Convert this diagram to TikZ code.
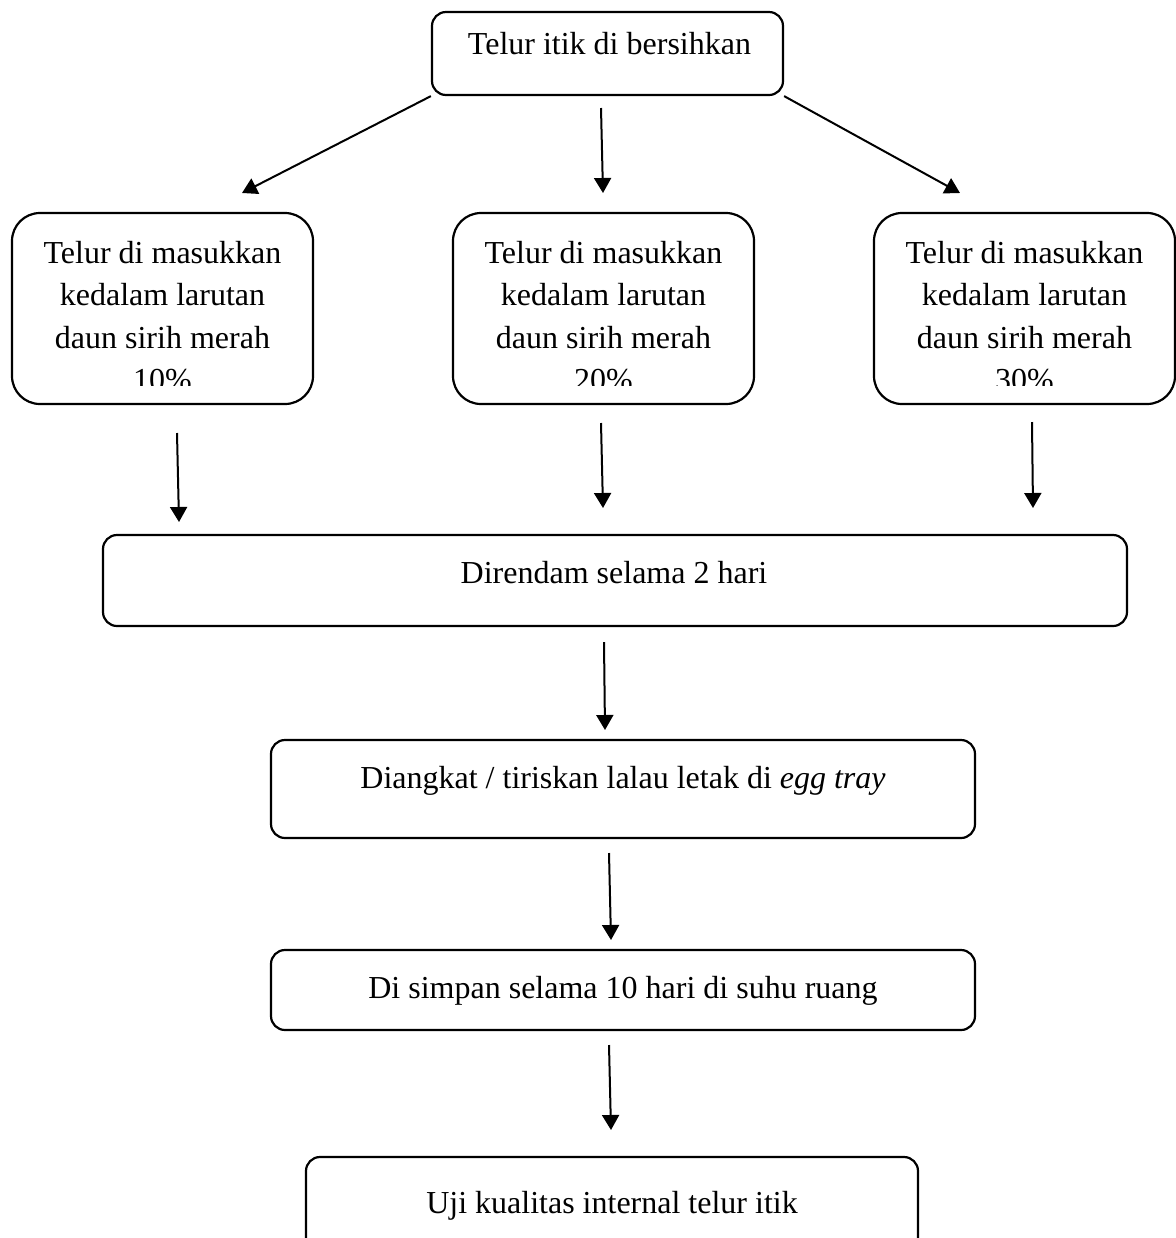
\documentclass[tikz,border=0pt]{standalone}
\usepackage{fontspec}
\setmainfont{Liberation Serif}
\usetikzlibrary{arrows.meta}

\begin{document}
\begin{tikzpicture}[x=0.5pt,y=-0.5pt,
    box/.style={draw,line width=1.1pt,rounded corners=7pt,inner sep=0pt},
    boxsize/.style 2 args={minimum width=#1*0.5pt,minimum height=#2*0.5pt},
    sidebox/.style={box,rounded corners=14pt,boxsize={301}{191}},
    txt/.style={inner sep=0pt,anchor=base,font=\fontsize{16}{21.25}\selectfont},
    sidetxt/.style={txt,align=center},
    arr/.style={line width=1pt,-{Triangle[width=8.5pt,length=7.5pt]}}]
            \clip (0,0) rectangle (1176,1238);
            \node[box,boxsize={351}{83}] (top) at (607.5,53.5) {};
            \node[txt] (ttop) at (609.5,54) {Telur itik di bersihkan};
            \node[sidebox] (b1) at (162.5,308.5) {};
            \node[sidebox] (b2) at (603.5,308.5) {};
            \node[sidebox] (b3) at (1024.5,308.5) {};
            \begin{scope}
                \clip (0,213) rectangle (1176,385);
                \node[sidetxt] (t1) at (162.5,390.5) {Telur di masukkan\\kedalam larutan\\daun sirih merah\\10\%};
                \node[sidetxt] (t2) at (603.5,390.5) {Telur di masukkan\\kedalam larutan\\daun sirih merah\\20\%};
                \node[sidetxt] (t3) at (1024.5,390.5) {Telur di masukkan\\kedalam larutan\\daun sirih merah\\30\%};
            \end{scope}
            \node[box,boxsize={1024}{91}] (rendam) at (615,580.5) {};
            \node[txt] (trendam) at (614,583) {Direndam selama 2 hari};
            \node[box,boxsize={704}{98}] (angkat) at (623,789) {};
            \node[txt] (tangkat) at (623,788) {Diangkat / tiriskan lalau letak di \textit{egg tray}};
            \node[box,boxsize={704}{80}] (simpan) at (623,990) {};
            \node[txt] (tsimpan) at (623,998) {Di simpan selama 10 hari di suhu ruang};
            \node[box,boxsize={612}{101}] (uji) at (612,1207.5) {};
            \node[txt] (tuji) at (612,1213) {Uji kualitas internal telur itik};
            \coordinate (A1) at (242,193);
            \coordinate (A2s) at (601,108);
            \coordinate (A2) at (603,193);
            \coordinate (A3) at (960,193);
            \coordinate (B1s) at (177,433);
            \coordinate (B1) at (179,522);
            \coordinate (B2s) at (601,423);
            \coordinate (B2) at (603,508);
            \coordinate (B3s) at (1032,422);
            \coordinate (B3) at (1033,508);
            \coordinate (Cs) at (604,642);
            \coordinate (C) at (605,730);
            \coordinate (Ds) at (609,853);
            \coordinate (D) at (611,940);
            \coordinate (Es) at (609,1045);
            \coordinate (E) at (611,1130);
            \draw[arr] (top.south west)--(A1);
            \draw[arr] (A2s)--(A2);
            \draw[arr] (top.south east)--(A3);
            \draw[arr] (B1s)--(B1);
            \draw[arr] (B2s)--(B2);
            \draw[arr] (B3s)--(B3);
            \draw[arr] (Cs)--(C);
            \draw[arr] (Ds)--(D);
            \draw[arr] (Es)--(E);
\end{tikzpicture}
\end{document}
